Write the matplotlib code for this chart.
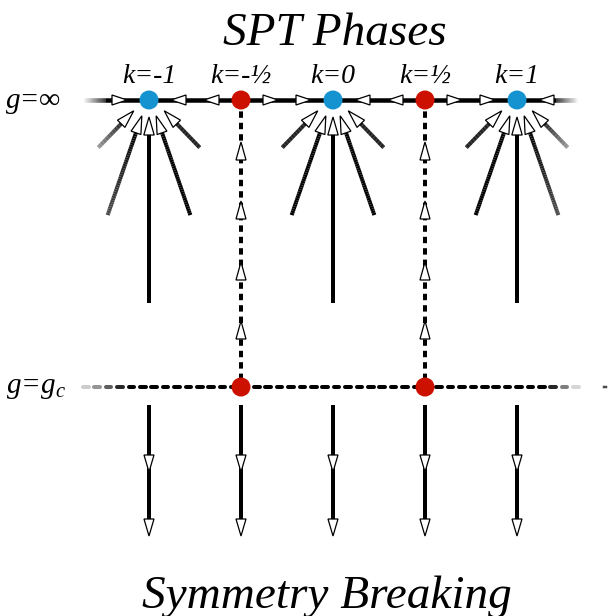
import numpy as np
import matplotlib
matplotlib.use("Agg")
import matplotlib.pyplot as plt
from matplotlib.collections import LineCollection
from matplotlib.patches import Polygon, Circle

plt.rcParams["mathtext.fontset"] = "custom"
plt.rcParams["mathtext.it"] = "Liberation Serif:italic"
plt.rcParams["mathtext.rm"] = "Liberation Serif"

# ---------------- data ----------------
k_labels = ["k=-1", "k=-½", "k=0", "k=½", "k=1"]
k_x = [149, 241, 333, 425, 517]
k_kind = ["spt", "crit", "spt", "crit", "spt"]
g_labels = ["g=∞", "g=g$_c$"]
g_y = [100, 387]
title_top = "SPT Phases"
title_bottom = "Symmetry Breaking"
fan_angles = [-44, -19, 0, 19, 44]           # degrees from vertical
fan_radii = [73, 127, 208, 127, 73]          # start radius of each fan line
fan_fade = {0: [0.55, 0.3, 0, 0, 0], 4: [0, 0, 0, 0.3, 0.55]}
up_arrow_tips = [142, 201, 262, 321]         # arrowheads on critical lines
down_arrow_tips = [472, 536]                 # arrowheads below g_c
line_extent = [83, 578]
blue = "#1592d0"
red = "#cc1100"

fig = plt.figure(figsize=(6.08, 6.16), dpi=100)
ax = fig.add_axes([0, 0, 1, 1])
ax.set_xlim(0, 608)
ax.set_ylim(616, 0)
ax.axis("off")

serif = ["Liberation Serif", "DejaVu Serif"]
PT = 0.72  # points per pixel


def head(tip, d, L=16, w=5.2, z=5):
    d = np.asarray(d, float)
    d = d / np.hypot(*d)
    n = np.array([-d[1], d[0]])
    tip = np.asarray(tip, float)
    base = tip - L * d
    poly = Polygon([tip, base + w * n, base - w * n], closed=True,
                   facecolor="white", edgecolor="black", lw=0.9, zorder=z,
                   joinstyle="miter")
    ax.add_patch(poly)


def grad_line(p0, p1, g0, g1, lw, z=3, n=40):
    # gray level g0 at p0 -> g1 at p1 (0=black, 1=white)
    p0 = np.asarray(p0, float)
    p1 = np.asarray(p1, float)
    t = np.linspace(0, 1, n + 1)
    pts = p0 + (p1 - p0) * t[:, None]
    segs = np.stack([pts[:-1], pts[1:]], axis=1)
    g = g0 + (g1 - g0) * (t[:-1] + t[1:]) / 2
    cols = [(v, v, v) for v in np.clip(g, 0, 1)]
    lc = LineCollection(segs, colors=cols, linewidths=lw * PT, zorder=z,
                        capstyle="butt")
    ax.add_collection(lc)


y_top, y_c = g_y
x_left, x_right = line_extent

# ---- top line (g = infinity) with faded ends ----
grad_line((x_left, y_top), (x_left + 22, y_top), 1.0, 0.0, 4.5)
grad_line((x_left + 22, y_top), (x_right - 22, y_top), 0.0, 0.0, 4.5, n=2)
grad_line((x_right - 22, y_top), (x_right, y_top), 0.0, 1.0, 4.5)

# arrows along top line: flow from critical points toward SPT points
for i, x in enumerate(k_x):
    if k_kind[i] == "spt":
        head((x - 22, y_top), (1, 0), L=15, w=5)
        head((x + 22, y_top), (-1, 0), L=15, w=5)
    else:
        head((x - 37, y_top), (-1, 0), L=15, w=5)
        head((x + 37, y_top), (1, 0), L=15, w=5)

# ---- fans into SPT fixed points ----
for i, x in enumerate(k_x):
    if k_kind[i] != "spt":
        continue
    fades = fan_fade.get(i, [0] * 5)
    for a, r0, fd in zip(fan_angles, fan_radii, fades):
        th = np.deg2rad(a)
        u = np.array([np.sin(th), np.cos(th)])  # outward (downwards)
        c = np.array([x, y_top - 5])
        tip = c + 22 * u
        base = c + (22 + 15) * u
        start = c + r0 * u
        grad_line(start, base, fd, 0.0, 4.0)
        head(tip, -u, L=18, w=5.2)

# ---- critical vertical dotted lines ----
for i, x in enumerate(k_x):
    if k_kind[i] != "crit":
        continue
    ax.plot([x, x], [y_top, y_c], color="black", lw=4 * PT,
            linestyle=(0, (1.6, 1.25)), dash_capstyle="butt", zorder=2)
    for t in up_arrow_tips:
        head((x, t), (0, -1), L=18, w=5)

# ---- horizontal dotted line at g_c with faded ends ----
period, dash = 11.4, 5.5
xs = np.arange(x_left, x_right, period)
segs, cols = [], []
for xs0 in xs:
    xm = xs0 + dash / 2
    if xm < x_left + 45:
        gv = 0.85 * (1 - (xm - x_left) / 45)
    elif xm > x_right - 30:
        gv = 0.9 * (xm - (x_right - 30)) / 30
    else:
        gv = 0.0
    segs.append([(xs0, y_c), (xs0 + dash, y_c)])
    cols.append((gv, gv, gv))
ax.add_collection(LineCollection(segs, colors=cols, linewidths=4 * PT,
                                 zorder=2, capstyle="round"))
ax.plot([604, 606], [y_c, y_c], color="0.3", lw=2.5 * PT, zorder=2)

# ---- downward flows below g_c ----
for x in k_x:
    ax.plot([x, x], [405, down_arrow_tips[-1] - 10], color="black",
            lw=4 * PT, solid_capstyle="butt", zorder=2)
    for t in down_arrow_tips:
        head((x, t), (0, 1), L=17, w=5)

# ---- fixed points ----
for i, x in enumerate(k_x):
    col = blue if k_kind[i] == "spt" else red
    ax.add_patch(Circle((x, y_top), 9.5, facecolor=col, edgecolor="none",
                        zorder=8))
    if k_kind[i] == "crit":
        ax.add_patch(Circle((x, y_c), 9.5, facecolor=col, edgecolor="none",
                            zorder=8))
    ax.text(x, 83, k_labels[i], ha="center", va="baseline", fontsize=20,
            family=serif, style="italic")

# ---- axis labels ----
ax.text(6, 108, g_labels[0], ha="left", va="baseline", fontsize=21,
        family=serif, style="italic")
ax.text(6, 393, g_labels[1], ha="left", va="baseline", fontsize=21,
        family=serif, style="italic")

ax.text(335, 45, title_top, ha="center", va="baseline", fontsize=34,
        family=serif, style="italic")
ax.text(327, 608, title_bottom, ha="center", va="baseline", fontsize=34,
        family=serif, style="italic")

fig.savefig("out.png", dpi=100)
